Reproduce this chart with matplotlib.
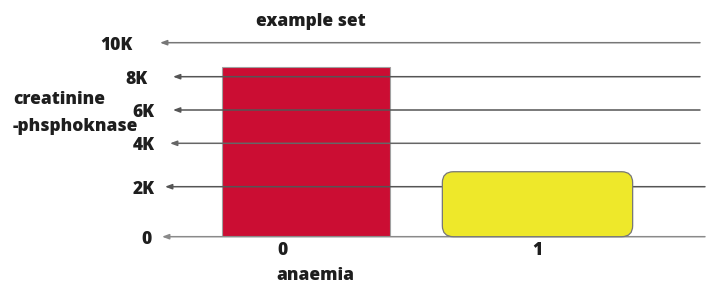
import numpy as np
import matplotlib
matplotlib.use("Agg")
import matplotlib.pyplot as plt
from matplotlib.patches import FancyBboxPatch
from matplotlib.transforms import IdentityTransform, ScaledTranslation

plt.rcParams['font.family'] = ['Open Sans', 'DejaVu Sans']

# data
categories = ["0", "1"]
cpk_values = [8560, 2690]
tick_values = [0, 2000, 4000, 6000, 8000, 10000]
tick_labels = ["0", "2K", "4K", "6K", "8K", "10K"]

# the value axis in the picture is not evenly spaced, so map it piecewise
tick_frac = np.array([0, 50, 93.4, 126.7, 160, 194]) / 194.0


def fwd(v):
    return np.interp(v, tick_values, tick_frac)


def inv(p):
    return np.interp(p, tick_frac, tick_values)


W = 'heavy'
TC = "#1e1e1e"

fig = plt.figure(figsize=(7.1, 2.87), dpi=100)
ax = fig.add_axes([150 / 710, 1 - 236.7 / 287, 555 / 710, 194 / 287])
ax.set_yscale('function', functions=(fwd, inv))
ax.set_ylim(0, 10000)
ax.set_xlim((150 - 306) / 231.5, (705 - 306) / 231.5)

for s in ax.spines.values():
    s.set_visible(False)

xpos = np.arange(len(categories))
bars = ax.bar(xpos, cpk_values, width=[0.726, 0.822],
              color=["#CB0D33", "#EEE82A"], edgecolor=["#A0A0A0", "#777777"],
              linewidth=0.8, zorder=1)

# yellow bar drawn with rounded corners
bb = bars[1].get_window_extent()
bars[1].set_visible(False)
rb = FancyBboxPatch((bb.x0, bb.y0), bb.width, bb.height,
                    boxstyle="round,pad=0,rounding_size=11",
                    transform=IdentityTransform(), facecolor="#EEE82A",
                    edgecolor="#777777", linewidth=0.9, zorder=1)
fig.patches.append(rb)
rb.set_figure(fig)

# grid lines with arrows pointing left, drawn over the bars
left_ends = [0.0216, 0.027, 0.036, 0.0414, 0.0414, 0.018]
right_ends = [1.0, 1.0, 0.991, 0.991, 0.991, 0.991]
line_cols = ["#8a8a8a", "#555555", "#666666", "#555555", "#555555", "#777777"]
label_x = [0.0036, 0.009, 0.009, 0.009, -0.0036, -0.032]
down = ScaledTranslation(0, -2.5 / 100, fig.dpi_scale_trans)
for v, lab, xl, xr, c, lx in zip(tick_values, tick_labels, left_ends,
                                 right_ends, line_cols, label_x):
    ax.annotate("", xy=(xl, v), xytext=(xr, v),
                xycoords=('axes fraction', 'data'),
                textcoords=('axes fraction', 'data'),
                arrowprops=dict(arrowstyle="-|>,head_length=0.4,head_width=0.15",
                                color=c, lw=1.1, shrinkA=0, shrinkB=0),
                zorder=3, annotation_clip=False)
    ax.text(lx, v, lab, transform=ax.get_yaxis_transform() + down,
            ha='right', va='center', fontsize=12.5, fontweight=W, color=TC)

ax.set_yticks([])
ax.set_xticks(xpos)
ax.set_xticklabels(categories, fontsize=12.5, fontweight=W, color=TC)
ax.tick_params(axis='x', length=0, pad=3.5)
lbls = ax.get_xticklabels()
lbls[0].set_transform(lbls[0].get_transform() +
                      ScaledTranslation(-23 / 100, 0, fig.dpi_scale_trans))

fig.text(315 / 710, 1 - 275 / 287, "anaemia", ha='center', va='center',
         fontsize=12.5, fontweight=W, color=TC)
fig.text(13 / 710, 1 - 100 / 287, "creatinine", ha='left', va='center',
         fontsize=12.5, fontweight=W, color=TC)
fig.text(13 / 710, 1 - 127 / 287, "-phsphoknase", ha='left', va='center',
         fontsize=12.5, fontweight=W, color=TC)
fig.text(311 / 710, 1 - 22 / 287, "example set", ha='center', va='center',
         fontsize=12.5, fontweight=W, color=TC)

fig.savefig("out.png", dpi=100)
